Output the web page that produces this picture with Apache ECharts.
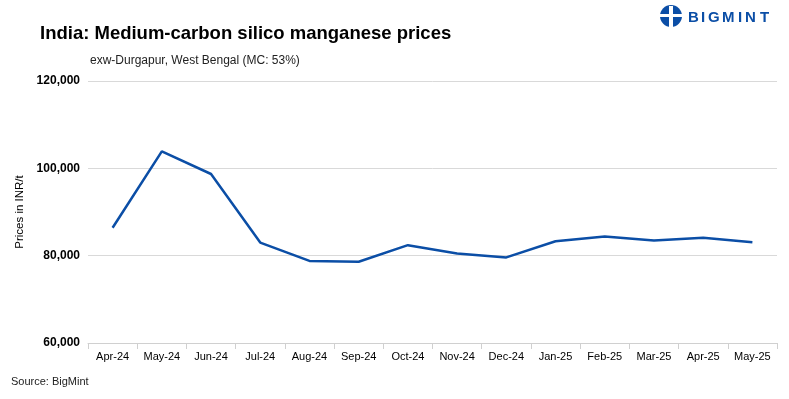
<!DOCTYPE html>
<html>
<head>
<meta charset="utf-8">
<script src="https://cdn.jsdelivr.net/npm/echarts@6/dist/echarts.min.js"></script>
<style>
  html, body { margin: 0; padding: 0; background: #fff; }
  #chart { width: 789px; height: 399px; }
</style>
</head>
<body>
<div id="chart"></div>
<script>
const months = ['Apr-24', 'May-24', 'Jun-24', 'Jul-24', 'Aug-24', 'Sep-24', 'Oct-24',
  'Nov-24', 'Dec-24', 'Jan-25', 'Feb-25', 'Mar-25', 'Apr-25', 'May-25']
const prices = [86400, 103900, 98700, 83000, 78800, 78600, 82400,
  80500, 79600, 83300, 84400, 83500, 84100, 83100]
const yTicks = [60000, 80000, 100000, 120000]

const blue = '#0b4ea6'
const chart = echarts.init(document.getElementById('chart'))

// logo letters, spaced out like the original
const logoLetters = 'BIGMINT'.split('').map((ch, i) => ({
  type: 'text',
  x: [688, 701, 708, 722, 738, 745, 760][i],
  y: 10,
  style: { text: ch, fill: blue, font: 'bold 15px "Liberation Sans"' }
}))

const option = {
  backgroundColor: '#fff',
  animation: false,
  title: [{
    text: 'India: Medium-carbon silico manganese prices',
    left: 35,
    top: 19,
    textStyle: { fontFamily: 'Liberation Sans', fontSize: 18.5, fontWeight: 'bold', color: '#000' }
  }, {
    text: 'exw-Durgapur, West Bengal (MC: 53%)',
    left: 85,
    top: 50,
    textStyle: { fontFamily: 'Liberation Sans', fontSize: 12, fontWeight: 'normal', color: '#222' }
  }, {
    text: 'Source: BigMint',
    left: 6,
    top: 371,
    textStyle: { fontFamily: 'Liberation Sans', fontSize: 11, fontWeight: 'normal', color: '#222' }
  }],
  graphic: [{
    type: 'circle',
    shape: { cx: 671, cy: 16, r: 11 },
    style: { fill: blue }
  }, {
    type: 'rect',
    shape: { x: 669, y: 6, width: 4, height: 21 },
    style: { fill: '#fff' }
  }, {
    type: 'rect',
    shape: { x: 660, y: 14, width: 23, height: 3 },
    style: { fill: '#fff' }
  }].concat(logoLetters),
  grid: { left: 88, right: 12, top: 81, bottom: 56 },
  xAxis: {
    type: 'category',
    data: months,
    boundaryGap: true,
    axisLine: { lineStyle: { color: '#d0d0d0' } },
    axisTick: { show: true, interval: 0, length: 6, lineStyle: { color: '#d0d0d0' } },
    axisLabel: { interval: 0, fontFamily: 'Liberation Sans', fontSize: 11, color: '#000', margin: 8 },
    splitLine: { show: false }
  },
  yAxis: {
    type: 'value',
    min: yTicks[0],
    max: yTicks[yTicks.length - 1],
    interval: 20000,
    name: 'Prices in INR/t',
    nameLocation: 'middle',
    nameGap: 54,
    nameTextStyle: { fontFamily: 'Liberation Sans', fontSize: 11.5, color: '#000' },
    axisLine: { show: false },
    axisTick: { show: false },
    axisLabel: {
      fontFamily: 'Liberation Sans', fontSize: 12, fontWeight: 'bold', color: '#000', margin: 8,
      formatter: v => v.toLocaleString('en-US')
    },
    splitLine: { lineStyle: { color: '#d9d9d9' } }
  },
  series: [{
    type: 'line',
    data: prices,
    showSymbol: false,
    lineStyle: { color: blue, width: 2.5 },
    itemStyle: { color: blue }
  }]
}

chart.setOption(option)
</script>
</body>
</html>
